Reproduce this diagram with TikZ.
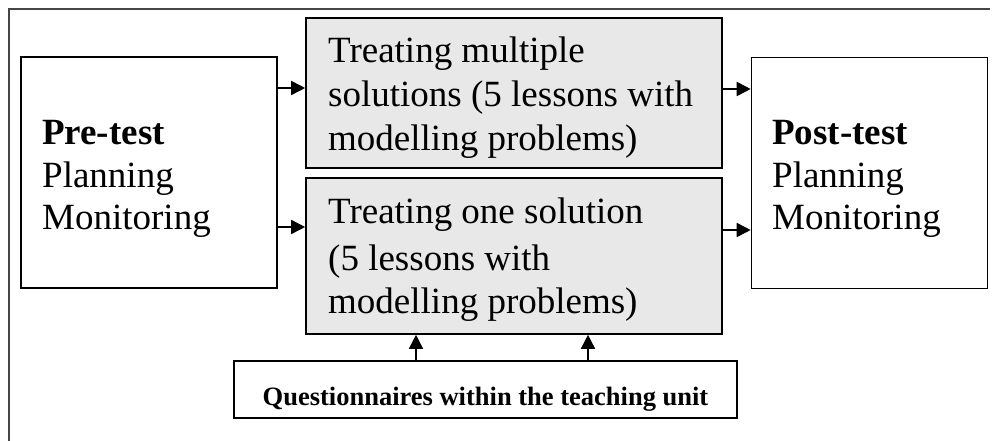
\documentclass[tikz,border=0pt]{standalone}
\usepackage{fontspec}
\setmainfont{Liberation Serif}
\usetikzlibrary{arrows.meta}
\definecolor{boxgray}{RGB}{232,232,232}
\definecolor{framegray}{RGB}{70,70,70}
\tikzset{
  plainbox/.style={draw=black, line width=1.6pt, minimum width=#1, inner sep=0pt},
  graybox/.style={draw=black, line width=1.6pt, fill=boxgray, inner sep=0pt},
  bigtext/.style={anchor=base west, inner sep=0pt, font=\fontsize{37}{44}\selectfont},
  smalltext/.style={anchor=base, inner sep=0pt, font=\fontsize{26.5}{30}\selectfont\bfseries},
  arr/.style={line width=1.6pt, -{Triangle[length=14pt,width=14pt]}},
}
\begin{document}
\begin{tikzpicture}[x=1pt,y=-1pt]
\useasboundingbox (0,0) rectangle (993,441);
% outer frame (only left and top edges visible)
\draw[framegray, line width=2pt] (9,441) -- (9,9) -- (990,9);
% boxes
\node[plainbox=256pt, minimum height=231pt] (pre) at (149,172.5) {};
\node[plainbox=236pt, minimum height=231pt] (post) at (869.5,173) {};
\node[graybox, minimum width=416pt, minimum height=150pt] (multi) at (514,93) {};
\node[graybox, minimum width=416pt, minimum height=156pt] (one) at (514,256) {};
\node[plainbox=503pt, minimum height=57pt] (quest) at (485.5,389.5) {};
% texts
\node[bigtext] (preT) at (42,145) {\bfseries Pre-test};
\node[bigtext] (preP) at (42,187) {Planning};
\node[bigtext] (preM) at (42,229) {Monitoring};
\node[bigtext] (postT) at (772,145) {\bfseries Post-test};
\node[bigtext] (postP) at (772,187) {Planning};
\node[bigtext] (postM) at (772,229) {Monitoring};
\node[bigtext] (m1) at (328,63) {Treating multiple};
\node[bigtext] (m2) at (328,107) {solutions (5 lessons with};
\node[bigtext] (m3) at (328,150) {modelling problems)};
\node[bigtext] (o1) at (328,223) {Treating one solution};
\node[bigtext] (o2) at (328,270) {(5 lessons with};
\node[bigtext] (o3) at (328,313) {modelling problems)};
\node[smalltext] (qT) at (485.5,405) {Questionnaires within the teaching unit};
% connectors
\draw[arr] (pre.east |- 0,88) -- (multi.west |- 0,88);
\draw[arr] (pre.east |- 0,227) -- (one.west |- 0,227);
\draw[arr] (multi.east |- 0,89) -- (post.west |- 0,89);
\draw[arr] (one.east |- 0,230) -- (post.west |- 0,230);
\draw[arr] (quest.north -| 416,0) -- (one.south -| 416,0);
\draw[arr] (quest.north -| 588,0) -- (one.south -| 588,0);
\end{tikzpicture}
\end{document}
